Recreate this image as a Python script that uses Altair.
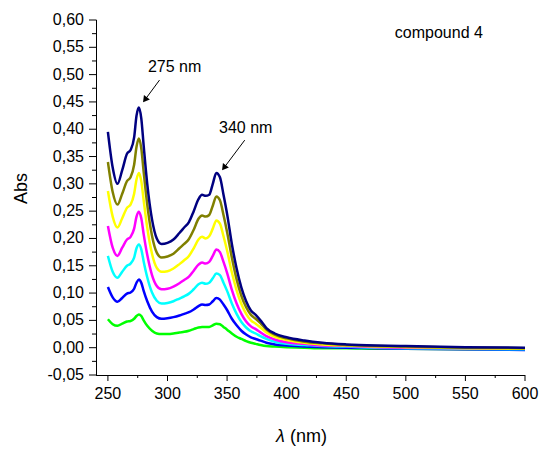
import altair as alt
import pandas as pd

# ---------------- data ----------------
WAVELENGTH = [250, 254, 258, 262, 266, 269, 272, 274, 276, 278, 280, 283, 287, 291, 295,
              300, 305, 310, 314, 318, 322, 326, 329, 332, 335, 338, 341, 344, 347, 350,
              354, 358, 362, 366, 370, 374, 378, 383, 390, 400, 415, 430, 450, 475, 500,
              550, 600]

GREEN = [0.052, 0.043, 0.040, 0.044, 0.048, 0.049, 0.053, 0.058, 0.061, 0.058, 0.050, 0.040,
         0.031, 0.026, 0.025, 0.025, 0.026, 0.028, 0.029, 0.031, 0.034, 0.037, 0.038, 0.038,
         0.038, 0.041, 0.044, 0.043, 0.038, 0.033, 0.026, 0.020, 0.016, 0.012, 0.009, 0.007,
         0.005, 0.003, 0.002, 0.001, 0.000, -0.001, -0.001, -0.002, -0.002, -0.003, -0.003]

BLUE = [0.111, 0.092, 0.084, 0.091, 0.099, 0.101, 0.108, 0.119, 0.125, 0.119, 0.104, 0.085,
        0.066, 0.056, 0.053, 0.054, 0.056, 0.059, 0.062, 0.065, 0.070, 0.076, 0.079, 0.078,
        0.079, 0.085, 0.091, 0.088, 0.079, 0.069, 0.053, 0.041, 0.031, 0.024, 0.019, 0.016,
        0.013, 0.009, 0.006, 0.004, 0.002, 0.001, 0.000, -0.001, -0.002, -0.003, -0.004]

CYAN = [0.168, 0.139, 0.128, 0.139, 0.150, 0.154, 0.165, 0.182, 0.189, 0.180, 0.158, 0.129,
        0.101, 0.086, 0.081, 0.082, 0.085, 0.090, 0.094, 0.099, 0.107, 0.116, 0.119, 0.117,
        0.119, 0.127, 0.136, 0.133, 0.119, 0.104, 0.081, 0.062, 0.047, 0.037, 0.030, 0.026,
        0.021, 0.016, 0.011, 0.007, 0.005, 0.003, 0.002, 0.000, -0.001, -0.002, -0.003]

MAGENTA = [0.223, 0.183, 0.168, 0.183, 0.198, 0.203, 0.218, 0.240, 0.249, 0.237, 0.208, 0.170,
           0.133, 0.113, 0.107, 0.108, 0.112, 0.118, 0.124, 0.130, 0.141, 0.152, 0.156, 0.154,
           0.157, 0.168, 0.180, 0.175, 0.157, 0.137, 0.106, 0.081, 0.062, 0.048, 0.039, 0.034,
           0.028, 0.021, 0.015, 0.010, 0.007, 0.004, 0.003, 0.001, 0.000, -0.001, -0.002]

YELLOW = [0.287, 0.240, 0.220, 0.237, 0.256, 0.262, 0.282, 0.308, 0.320, 0.305, 0.270, 0.220,
          0.172, 0.146, 0.139, 0.140, 0.145, 0.153, 0.160, 0.168, 0.182, 0.198, 0.203, 0.200,
          0.204, 0.218, 0.233, 0.227, 0.204, 0.178, 0.138, 0.105, 0.080, 0.062, 0.050, 0.044,
          0.037, 0.028, 0.020, 0.014, 0.009, 0.006, 0.004, 0.002, 0.001, -0.001, -0.002]

OLIVE = [0.340, 0.285, 0.262, 0.282, 0.305, 0.312, 0.335, 0.368, 0.383, 0.365, 0.322, 0.262,
         0.205, 0.174, 0.165, 0.167, 0.172, 0.182, 0.190, 0.199, 0.216, 0.236, 0.242, 0.240,
         0.243, 0.260, 0.277, 0.270, 0.243, 0.212, 0.165, 0.125, 0.095, 0.074, 0.060, 0.053,
         0.045, 0.033, 0.024, 0.017, 0.011, 0.008, 0.005, 0.003, 0.002, 0.000, -0.001]

NAVY = [0.395, 0.330, 0.300, 0.325, 0.355, 0.362, 0.385, 0.425, 0.440, 0.420, 0.370, 0.300,
        0.235, 0.200, 0.190, 0.192, 0.198, 0.210, 0.220, 0.230, 0.250, 0.272, 0.280, 0.278,
        0.280, 0.300, 0.320, 0.312, 0.280, 0.245, 0.190, 0.145, 0.110, 0.085, 0.068, 0.060,
        0.050, 0.036, 0.026, 0.019, 0.013, 0.009, 0.006, 0.004, 0.003, 0.001, 0.000]

SERIES_NAMES = ["green", "blue", "cyan", "magenta", "yellow", "olive", "navy"]
SERIES_VALUES = [GREEN, BLUE, CYAN, MAGENTA, YELLOW, OLIVE, NAVY]
SERIES_COLORS = ["#00ff00", "#0000ff", "#00ffff", "#ff00ff", "#ffff00", "#808000", "#000080"]

X_MAJOR = [250, 300, 350, 400, 450, 500, 550, 600]
X_MINOR = [275, 325, 375, 425, 475, 525, 575]
Y_MAJOR = [-0.05, 0.0, 0.05, 0.10, 0.15, 0.20, 0.25, 0.30, 0.35, 0.40, 0.45, 0.50, 0.55, 0.60]
Y_MINOR = [-0.025, 0.025, 0.075, 0.125, 0.175, 0.225, 0.275, 0.325, 0.375, 0.425, 0.475,
           0.525, 0.575]

X_TITLE_SYMBOL = "λ"
X_TITLE_UNIT = "(nm)"
Y_TITLE = "Abs"

# annotations
LABEL_TEXT = ["275 nm", "340 nm", "compound 4"]
LABEL_X = [306.0, 365.6, 527.7]
LABEL_Y = [0.514, 0.402, 0.576]
LABEL_SIZE = [16, 16, 16]

ARROW_X_START = [293.3, 364.8]
ARROW_Y_START = [0.490, 0.380]
ARROW_X_HEAD = [281.1, 347.4]
ARROW_Y_HEAD = [0.4539, 0.3294]

PLOT_W, PLOT_H = 429, 355
FONT = "Liberation Sans"

# ---------------- tables ----------------
rows = []
for i, (name, vals) in enumerate(zip(SERIES_NAMES, SERIES_VALUES)):
    for w, a in zip(WAVELENGTH, vals):
        rows.append({"series": name, "wl": w, "absv": a, "k": i})
df = pd.DataFrame(rows)

labels_df = pd.DataFrame({"text": LABEL_TEXT, "x": LABEL_X, "y": LABEL_Y, "size": LABEL_SIZE})
arrows_df = pd.DataFrame({"x": ARROW_X_START, "y": ARROW_Y_START,
                          "x2": ARROW_X_HEAD, "y2": ARROW_Y_HEAD})
xmaj_df = pd.DataFrame({"v": X_MAJOR})
xmin_df = pd.DataFrame({"v": X_MINOR})
ymaj_df = pd.DataFrame({"v": Y_MAJOR})
ymin_df = pd.DataFrame({"v": Y_MINOR})
one_df = pd.DataFrame({"d": [0]})

xscale = alt.Scale(domain=[240, 600], nice=False, zero=False)
yscale = alt.Scale(domain=[-0.05, 0.60], nice=False, zero=False)


def X(field):
    return alt.X(field, scale=xscale, axis=None)


def Y(field):
    return alt.Y(field, scale=yscale, axis=None)


lines = alt.Chart(df).mark_line(strokeWidth=2.5, interpolate="monotone").encode(
    x=X("wl:Q"),
    y=Y("absv:Q"),
    color=alt.Color("series:N", scale=alt.Scale(domain=SERIES_NAMES, range=SERIES_COLORS),
                    legend=None),
    detail="series:N",
    order=alt.Order("wl:Q"),
)

# ---- axes drawn from marks positioned through the scales ----
x_domain = alt.Chart(one_df).mark_rule(color="black", strokeWidth=1).encode(
    x=alt.value(0), x2=alt.value(PLOT_W), y=alt.value(PLOT_H + 0.5))
y_domain = alt.Chart(one_df).mark_rule(color="black", strokeWidth=1).encode(
    x=alt.value(0.5), y=alt.value(0), y2=alt.value(PLOT_H + 0.5))

xmaj_ticks = alt.Chart(xmaj_df).mark_rule(color="black", strokeWidth=1).encode(
    x=X("v:Q"), y=alt.value(PLOT_H), y2=alt.value(PLOT_H + 6))
xmin_ticks = alt.Chart(xmin_df).mark_rule(color="black", strokeWidth=1).encode(
    x=X("v:Q"), y=alt.value(PLOT_H), y2=alt.value(PLOT_H + 3))
ymaj_ticks = alt.Chart(ymaj_df).mark_rule(color="black", strokeWidth=1).encode(
    y=Y("v:Q"), x=alt.value(-7), x2=alt.value(0.5))
ymin_ticks = alt.Chart(ymin_df).mark_rule(color="black", strokeWidth=1).encode(
    y=Y("v:Q"), x=alt.value(-4), x2=alt.value(0.5))

x_labels = alt.Chart(xmaj_df).transform_calculate(
    lab="format(datum.v, 'd')"
).mark_text(font=FONT, fontSize=16, color="black", align="center", baseline="top").encode(
    x=X("v:Q"), y=alt.value(PLOT_H + 11), text="lab:N")

y_labels = alt.Chart(ymaj_df).transform_calculate(
    lab="replace(replace(format(datum.v, '.2f'), '.', ','), '\u2212', '-')"
).mark_text(font=FONT, fontSize=16, color="black", align="right", baseline="middle").encode(
    y=Y("v:Q"), x=alt.value(-12), text="lab:N")

x_title_sym = alt.Chart(pd.DataFrame({"t": [X_TITLE_SYMBOL]})).mark_text(
    font=FONT, fontSize=18, fontStyle="italic", color="black", align="left",
    baseline="middle").encode(x=alt.value(180), y=alt.value(417), text="t:N")
x_title_unit = alt.Chart(pd.DataFrame({"t": [X_TITLE_UNIT]})).mark_text(
    font=FONT, fontSize=18, color="black", align="left",
    baseline="middle").encode(x=alt.value(194), y=alt.value(417), text="t:N")
y_title = alt.Chart(pd.DataFrame({"t": [Y_TITLE]})).mark_text(
    font=FONT, fontSize=18, color="black", align="center", baseline="middle",
    angle=270).encode(x=alt.value(-74), y=alt.value(168.5), text="t:N")

# ---- annotations ----
texts = alt.Chart(labels_df).mark_text(font=FONT, color="black",
                                       align="center", baseline="middle").encode(
    x=X("x:Q"),
    y=Y("y:Q"),
    text="text:N",
    size=alt.Size("size:Q", scale=None, legend=None),
)

arrow_lines = alt.Chart(arrows_df).mark_rule(color="black", strokeWidth=1).encode(
    x=X("x:Q"), y=Y("y:Q"), x2="x2:Q", y2="y2:Q",
)
arrow_heads = alt.Chart(arrows_df).mark_point(shape="triangle-up", filled=True, color="black",
                                              opacity=1, size=55, angle=216.5).encode(
    x=X("x2:Q"), y=Y("y2:Q"),
)

chart = alt.layer(
    lines, x_domain, y_domain, xmaj_ticks, xmin_ticks, ymaj_ticks, ymin_ticks,
    x_labels, y_labels, x_title_sym, x_title_unit, y_title,
    arrow_lines, arrow_heads, texts,
).properties(
    width=PLOT_W, height=PLOT_H,
    padding={"left": 96, "top": 20, "right": 17, "bottom": 82},
    autosize=alt.AutoSizeParams(type="none"),
).configure_view(stroke=None)

chart.save("out.html", embed_options={"renderer": "svg", "actions": False})
